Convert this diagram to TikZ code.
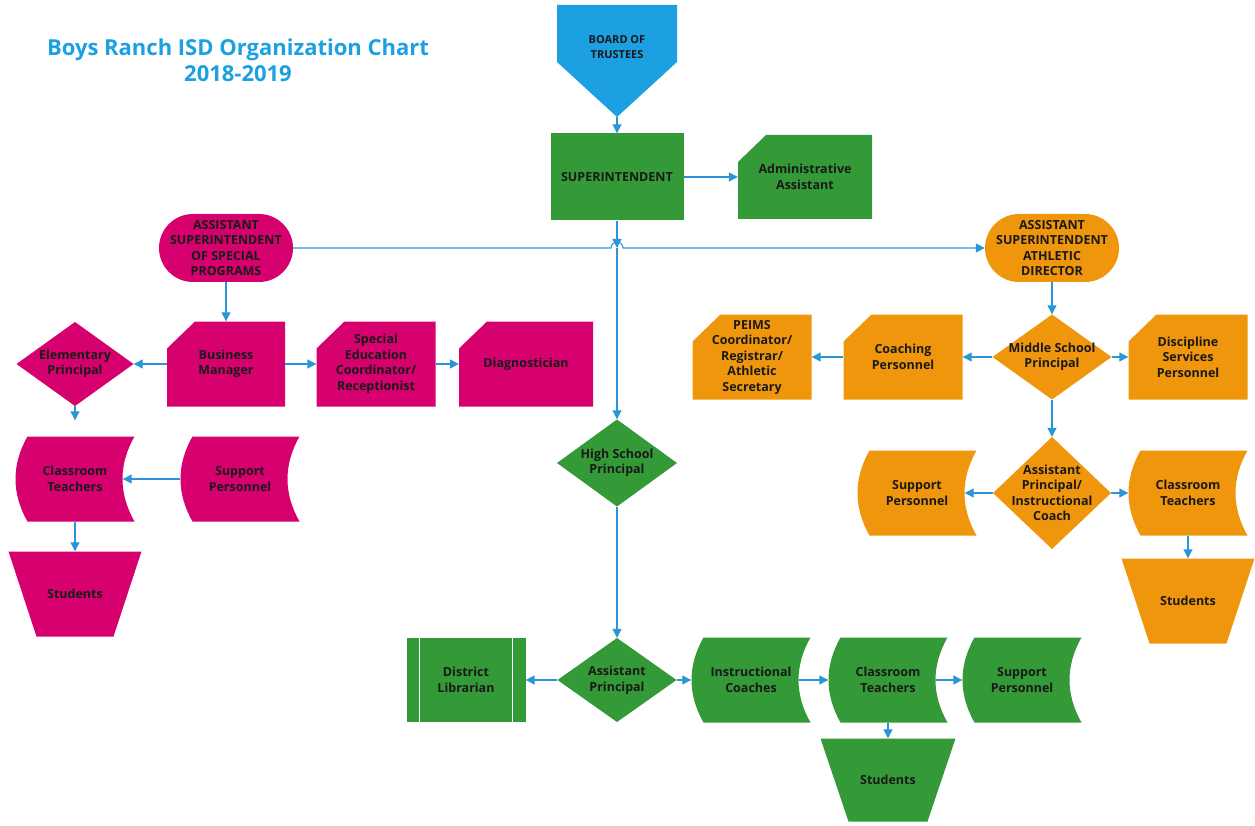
\documentclass[tikz,border=0pt]{standalone}
\usepackage{fontspec}
\newfontfamily\chartfont{Open Sans}
\usetikzlibrary{arrows.meta,calc}
\definecolor{trustblue}{RGB}{28,160,225}
\definecolor{linkblue}{RGB}{40,150,215}
\definecolor{chartgreen}{RGB}{52,154,56}
\definecolor{chartpink}{RGB}{214,0,111}
\definecolor{chartorange}{RGB}{240,150,12}
\definecolor{inktext}{RGB}{25,25,25}

\begin{document}
\begin{tikzpicture}[x=1pt,y=-1pt,>={Triangle[length=9pt,width=9pt]},
  every node/.style={font=\chartfont\bfseries\fontsize{12.5}{15.5}\selectfont,text=inktext,align=center,inner sep=0pt},
  unit/.style={minimum width=119pt,minimum height=85pt},
  plainbox/.style={unit,fill=#1},
  cutbox/.style={unit,path picture={\fill[#1] ([yshift=-27pt]path picture bounding box.north west) -- ([xshift=28pt]path picture bounding box.north west) -- (path picture bounding box.north east) -- (path picture bounding box.south east) -- (path picture bounding box.south west) -- cycle;}},
  decision/.style={unit,path picture={\fill[#1] (path picture bounding box.north) -- (path picture bounding box.east) -- (path picture bounding box.south) -- (path picture bounding box.west) -- cycle;}},
  datatab/.style={unit,path picture={\fill[#1] ([xshift=12pt]path picture bounding box.north west) .. controls ([xshift=-4pt,yshift=-28pt]path picture bounding box.north west) and ([xshift=-4pt,yshift=28pt]path picture bounding box.south west) .. ([xshift=12pt]path picture bounding box.south west) -- (path picture bounding box.south east) .. controls ([xshift=-16pt,yshift=28pt]path picture bounding box.south east) and ([xshift=-16pt,yshift=-28pt]path picture bounding box.north east) .. (path picture bounding box.north east) -- cycle;}},
  trapbox/.style={unit,minimum width=133pt,path picture={\fill[#1] (path picture bounding box.north west) -- (path picture bounding box.north east) -- ([xshift=-28pt]path picture bounding box.south east) -- ([xshift=28pt]path picture bounding box.south west) -- cycle;}},
  libbox/.style={unit,fill=#1,path picture={\draw[white,line width=1pt] ([xshift=13pt]path picture bounding box.north west) -- ([xshift=13pt]path picture bounding box.south west) ([xshift=-13pt]path picture bounding box.north east) -- ([xshift=-13pt]path picture bounding box.south east);}},
  terminal/.style={fill=#1,rounded corners=34pt,minimum width=134pt,minimum height=68pt},
  conn/.style={draw=linkblue,line width=1.1pt,->}]
\useasboundingbox (0,0) rectangle (1255,826);

% title
\node[font=\chartfont\bfseries\fontsize{22}{26}\selectfont,text=trustblue] (title) at (238,60) {Boys Ranch ISD Organization Chart\\2018-2019};

% board and superintendent
\coordinate (boardtip) at (617,117);
\fill[trustblue] (557,5) -- (677,5) -- (677,62) -- (boardtip) -- (557,62) -- cycle;
\node[font=\chartfont\bfseries\fontsize{11}{15}\selectfont] (board) at (617,47) {BOARD OF\\TRUSTEES};
\node[plainbox=chartgreen,minimum width=133pt,minimum height=87pt] (super) at (617,177) {SUPERINTENDENT};
\node[cutbox=chartgreen,minimum width=134pt,minimum height=84pt] (admin) at (805,177) {Administrative\\Assistant};
\coordinate (jn) at (617,248);
\coordinate (jl) at (611,248);
\coordinate (jr) at (623,248);

% special programs
\node[terminal=chartpink] (asp) at (226,248) {ASSISTANT\\SUPERINTENDENT\\OF SPECIAL\\PROGRAMS};
\node[cutbox=chartpink,minimum width=118pt] (bizmgr) at (226,364) {Business\\Manager};
\node[decision=chartpink,minimum width=117pt,minimum height=84pt] (elem) at (75,364) {Elementary\\Principal};
\node[cutbox=chartpink] (sped) at (376,364) {Special\\Education\\Coordinator/\\Receptionist};
\node[cutbox=chartpink,minimum width=134pt] (diag) at (526,364) {Diagnostician};
\node[datatab=chartpink] (pteach) at (75,479) {Classroom\\Teachers};
\node[datatab=chartpink] (psupp) at (240,479) {Support\\Personnel};
\node[trapbox=chartpink] (pstud) at (75,594) {Students};

% high school
\node[decision=chartgreen,minimum width=120pt,minimum height=87pt] (hsp) at (617,463) {High School\\Principal};
\node[decision=chartgreen,minimum height=84pt] (aprin) at (617,680) {Assistant\\Principal};
\node[libbox=chartgreen,minimum height=84pt] (lib) at (466,680) {District\\Librarian};
\node[datatab=chartgreen] (icoach) at (751,680) {Instructional\\Coaches};
\node[datatab=chartgreen] (gteach) at (888,680) {Classroom\\Teachers};
\node[datatab=chartgreen] (gsupp) at (1022,680) {Support\\Personnel};
\node[trapbox=chartgreen,minimum width=135pt,minimum height=83pt] (gstud) at (888,780) {Students};

% athletics
\node[terminal=chartorange] (athdir) at (1052,248) {ASSISTANT\\SUPERINTENDENT\\ATHLETIC\\DIRECTOR};
\node[decision=chartorange] (msp) at (1052,357) {Middle School\\Principal};
\node[cutbox=chartorange] (coach) at (903,357) {Coaching\\Personnel};
\node[cutbox=chartorange] (peims) at (752,357) {PEIMS\\Coordinator/\\Registrar/\\Athletic\\Secretary};
\node[cutbox=chartorange] (discip) at (1188,357) {Discipline\\Services\\Personnel};
\node[decision=chartorange,minimum width=118pt,minimum height=112pt] (apic) at (1052,493) {Assistant\\Principal/\\Instructional\\Coach};
\node[datatab=chartorange] (osupp) at (917,493) {Support\\Personnel};
\node[datatab=chartorange] (oteach) at (1188,493) {Classroom\\Teachers};
\node[trapbox=chartorange] (ostud) at (1188,601) {Students};

% connectors
\draw[conn] (boardtip) -- (super);
\draw[conn] (super) -- (admin);
\draw[conn] (super) -- (jn);
\draw[conn] (jn) -- (hsp);
\draw[conn] (asp) -- (jl) arc[start angle=180,end angle=0,radius=6pt] -- (athdir);
\draw[conn] (asp) -- (bizmgr);
\draw[conn] (bizmgr) -- (elem);
\draw[conn] (bizmgr) -- (sped);
\draw[conn] (sped) -- (diag);
\draw[conn,shorten >=16pt] (elem) -- (pteach);
\draw[conn] (psupp) -- ([xshift=-12pt]pteach.east);
\draw[conn] (pteach) -- (pstud);
\draw[conn] (hsp) -- (aprin);
\draw[conn] (aprin) -- (lib);
\draw[conn] (aprin) -- (icoach);
\draw[conn] ([xshift=-12pt]icoach.east) -- (gteach);
\draw[conn] ([xshift=-12pt]gteach.east) -- (gsupp);
\draw[conn] (gteach) -- (gstud);
\draw[conn] (athdir) -- (msp);
\draw[conn] (msp) -- (coach);
\draw[conn] (coach) -- (peims);
\draw[conn] (msp) -- (discip);
\draw[conn] (msp) -- (apic);
\draw[conn] (apic) -- ([xshift=-12pt]osupp.east);
\draw[conn] (apic) -- (oteach);
\draw[conn] (oteach) -- (ostud);
\end{tikzpicture}
\end{document}
